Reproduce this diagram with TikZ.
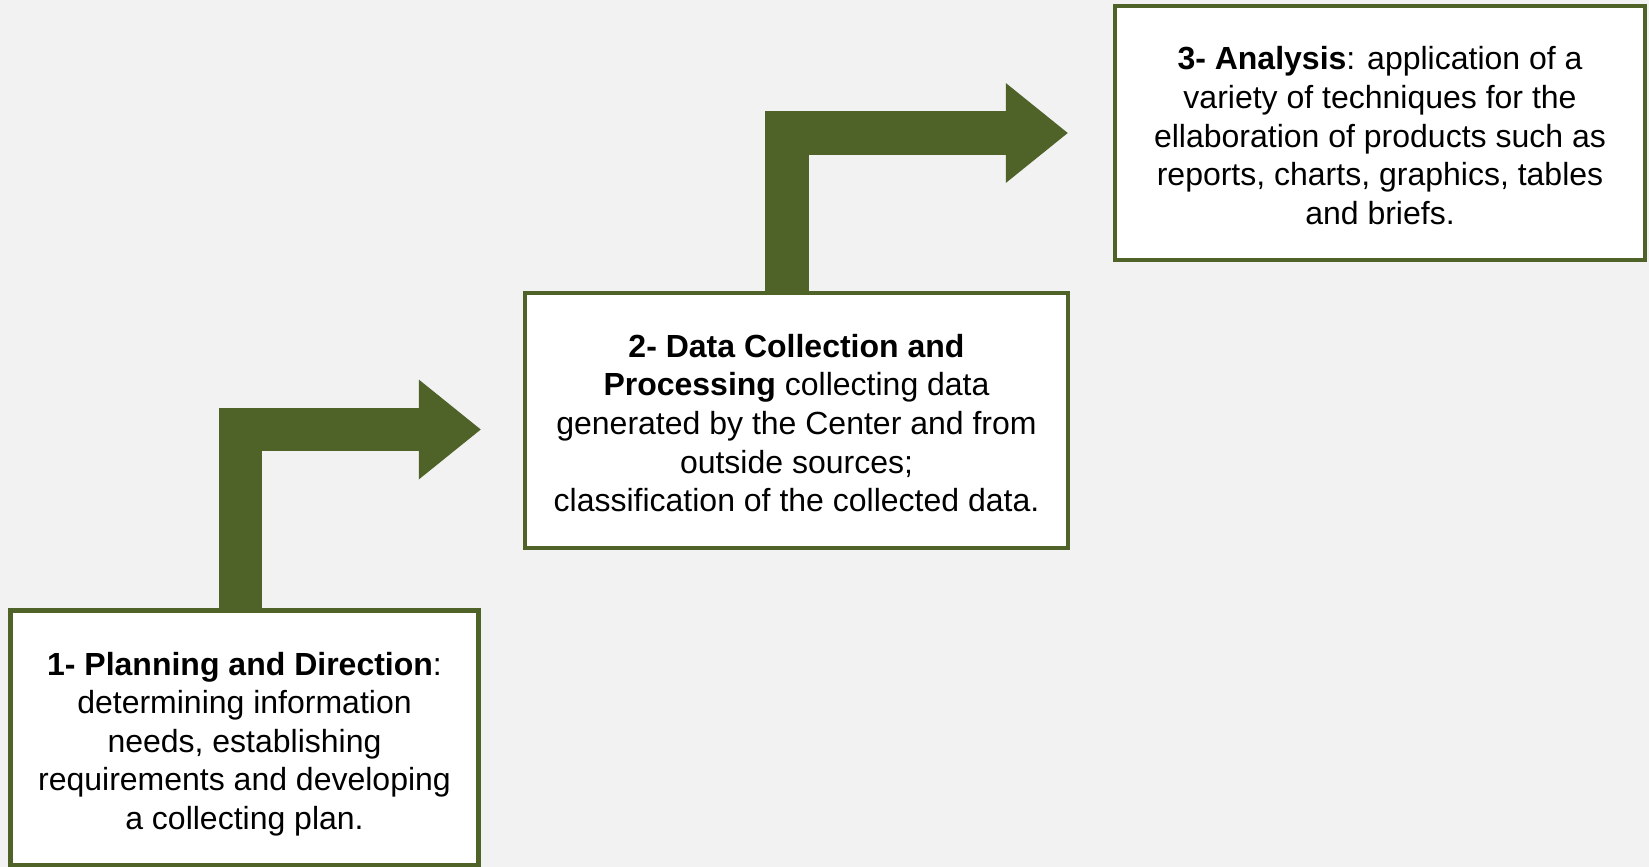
\documentclass[tikz,border=0pt]{standalone}
\usepackage{fontspec}
\setmainfont{Liberation Sans}
\usetikzlibrary{arrows.meta}
\definecolor{leafgreen}{HTML}{4F6228}
\definecolor{paper}{HTML}{F2F2F2}
\newcommand{\phasetop}{\rule{0pt}{14.2pt}}
\begin{document}
\begin{tikzpicture}[x=0.5pt, y=-0.5pt,
        every node/.style={font=\fontsize{16}{19.3}\selectfont, align=center, inner sep=0},
        phase/.style={draw=leafgreen, line width=2.25pt, fill=white},
        stair/.style={draw=leafgreen, line width=21.75pt, -{Triangle[length=31pt, width=50pt, line width=0pt 0]}}]
    \useasboundingbox (0,0) rectangle (1649,867);
    \fill[paper] (0,0) rectangle (1649,867);
    \node[phase, minimum width=234pt, minimum height=127.5pt] (plan) at (244.5,738) {\phasetop\textbf{1- Planning and Direction}:\\ determining information\\ needs, establishing\\ requirements and developing\\ \smash{a collecting plan.}};
    \node[phase, minimum width=271.5pt, minimum height=127.5pt] (collect) at (796.5,420.5) {\phasetop\textbf{2- Data Collection and}\\ \textbf{Processing} collecting data\\ generated by the Center and from\\ outside sources;\\ classification of the collected data.};
    \node[phase, minimum width=265pt, minimum height=127pt] (analysis) at (1380,133) {\phasetop\textbf{3- Analysis}: application of a\\ variety of techniques for the\\ ellaboration of products such as\\ reports, charts, graphics, tables\\ and briefs.};
    \draw[stair] ([xshift=-2pt]plan.north) |- ([shift={(-21pt,-4.5pt)}]collect.west);
    \draw[stair] ([xshift=-4.75pt]collect.north) |- ([xshift=-22.5pt]analysis.west);
\end{tikzpicture}
\end{document}
